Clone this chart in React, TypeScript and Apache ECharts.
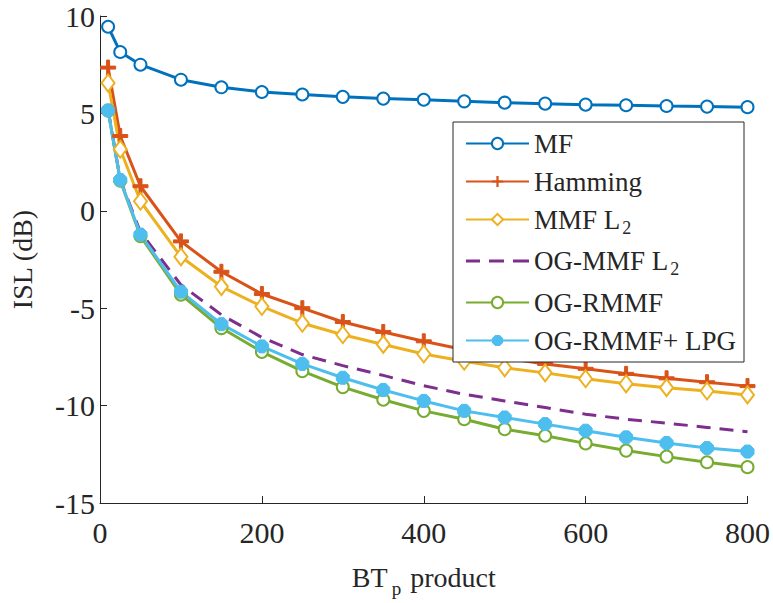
import React, { useEffect, useRef } from "react";
import * as echarts from "echarts";

const xValues = [10, 25, 50, 100, 150, 200, 250, 300, 350, 400, 450, 500, 550, 600, 650, 700, 750, 800];
const mf = [9.45, 8.15, 7.5, 6.73, 6.34, 6.1, 5.97, 5.85, 5.76, 5.7, 5.62, 5.55, 5.5, 5.45, 5.42, 5.38, 5.35, 5.32];
const hamming = [7.35, 3.84, 1.26, -1.57, -3.13, -4.27, -5.0, -5.71, -6.22, -6.7, -7.13, -7.55, -7.86, -8.11, -8.37, -8.6, -8.8, -9.0];
const mmfL2 = [6.56, 3.16, 0.49, -2.36, -3.89, -4.91, -5.77, -6.36, -6.86, -7.35, -7.72, -8.06, -8.32, -8.62, -8.88, -9.08, -9.25, -9.45];
const ogMmfL2 = [5.2, 1.6, -1.1, -3.8, -5.34, -6.5, -7.38, -7.95, -8.45, -8.98, -9.42, -9.76, -10.1, -10.44, -10.7, -10.9, -11.12, -11.34];
const ogRmmf = [5.15, 1.55, -1.3, -4.3, -6.02, -7.24, -8.23, -9.05, -9.7, -10.27, -10.7, -11.21, -11.55, -11.94, -12.31, -12.62, -12.91, -13.16];
const ogRmmfLpg = [5.15, 1.58, -1.22, -4.15, -5.82, -6.96, -7.86, -8.57, -9.2, -9.76, -10.27, -10.61, -10.95, -11.29, -11.63, -11.92, -12.18, -12.36];

const seriesNames = ["MF", "Hamming", "MMF L2", "OG-MMF L2", "OG-RMMF", "OG-RMMF+ LPG"];
const xTicks = [0, 200, 400, 600, 800];
const yTicks = [-15, -10, -5, 0, 5, 10];

const FONT = "'Liberation Serif', 'Times New Roman', serif";
const plusPath = "path://M4,0h2v4h4v2h-4v4h-2v-4h-4v-2h4z";
const blobPath = "path://M3,0h4l3,3v4l-3,3h-4l-3,-3v-4z";
const dashIcon = "path://M0,0h14v3h-14z M23,0h15v3h-15z M47,0h16v3h-16z";

const pairs = (ys: number[]) => xValues.map((x, i) => [x, ys[i]]);

export default function App() {
  const ref = useRef<HTMLDivElement>(null);
  useEffect(() => {
    if (!ref.current) return;
    const chart = echarts.init(ref.current, null, { renderer: "svg" });
    const base = (name: string, data: number[], color: string) => ({
      name,
      type: "line",
      data: pairs(data),
      color,
      lineStyle: { color, width: 3 },
      itemStyle: { color, borderColor: color },
      emphasis: { disabled: true },
    });
    chart.setOption({
      animation: false,
      backgroundColor: "#ffffff",
      grid: { left: 95, right: 24, top: 16, bottom: 97, containLabel: false },
      legend: {
        orient: "vertical",
        left: 453,
        top: 122,
        width: 290,
        padding: [8, 8, 8, 12],
        itemGap: 11,
        itemWidth: 63,
        itemHeight: 14,
        backgroundColor: "#ffffff",
        borderColor: "#262626",
        borderWidth: 1,
        data: seriesNames.map((n, i) =>
          i === 3 ? { name: n, icon: dashIcon, itemStyle: { color: "#7E2F8E" } } : { name: n }
        ),
        formatter: (n: string) => n.replace("L2", "L{sub|2}"),
        textStyle: {
          fontFamily: FONT,
          fontSize: 27,
          color: "#262626",
          lineHeight: 26,
          rich: {
            sub: { fontFamily: FONT, fontSize: 18, color: "#262626", lineHeight: 26, verticalAlign: "top", padding: [12, 0, 0, 2] },
          },
        },
      },
      xAxis: {
        type: "value",
        min: 0,
        max: 800,
        interval: 200,
        name: "BT{sub|p} product",
        nameLocation: "middle",
        nameGap: 54,
        nameTextStyle: {
          fontFamily: FONT,
          fontSize: 28,
          color: "#262626",
          rich: { sub: { fontFamily: FONT, fontSize: 19, color: "#262626", padding: [22, 2, 0, 4] } },
        },
        axisLine: { show: true, onZero: false, lineStyle: { color: "#262626", width: 1 } },
        axisTick: { show: true, inside: true, length: 7, lineStyle: { color: "#262626" } },
        axisLabel: { fontFamily: FONT, fontSize: 30, color: "#262626", margin: 14, customValues: xTicks },
        splitLine: { show: false },
      },
      yAxis: {
        type: "value",
        min: -15,
        max: 10,
        interval: 5,
        name: "ISL (dB)",
        nameLocation: "middle",
        nameGap: 64,
        nameRotate: 90,
        nameTextStyle: { fontFamily: FONT, fontSize: 28, color: "#262626" },
        axisLine: { show: true, onZero: false, lineStyle: { color: "#262626", width: 1 } },
        axisTick: { show: true, inside: true, length: 7, lineStyle: { color: "#262626" } },
        axisLabel: { fontFamily: FONT, fontSize: 30, color: "#262626", margin: 5, customValues: yTicks },
        splitLine: { show: false },
      },
      series: [
        { ...base(seriesNames[0], mf, "#0072BD"), symbol: "emptyCircle", symbolSize: 12, itemStyle: { color: "#0072BD", borderColor: "#0072BD", borderWidth: 2.5 } },
        { ...base(seriesNames[1], hamming, "#D95319"), symbol: plusPath, symbolSize: 15 },
        { ...base(seriesNames[2], mmfL2, "#EDB120"), symbol: "emptyDiamond", symbolSize: [13, 17], itemStyle: { color: "#EDB120", borderColor: "#EDB120", borderWidth: 2.5 } },
        { ...base(seriesNames[3], ogMmfL2, "#7E2F8E"), symbol: "none", lineStyle: { color: "#7E2F8E", width: 3, type: [14, 9] } },
        { ...base(seriesNames[4], ogRmmf, "#77AC30"), symbol: "emptyCircle", symbolSize: 12, itemStyle: { color: "#77AC30", borderColor: "#77AC30", borderWidth: 3 } },
        { ...base(seriesNames[5], ogRmmfLpg, "#4DBEEE"), symbol: blobPath, symbolSize: 13 },
      ],
    });
    return () => chart.dispose();
  }, []);
  return <div ref={ref} style={{ width: 773, height: 603, position: "absolute", left: 0, top: 0 }} />;
}
